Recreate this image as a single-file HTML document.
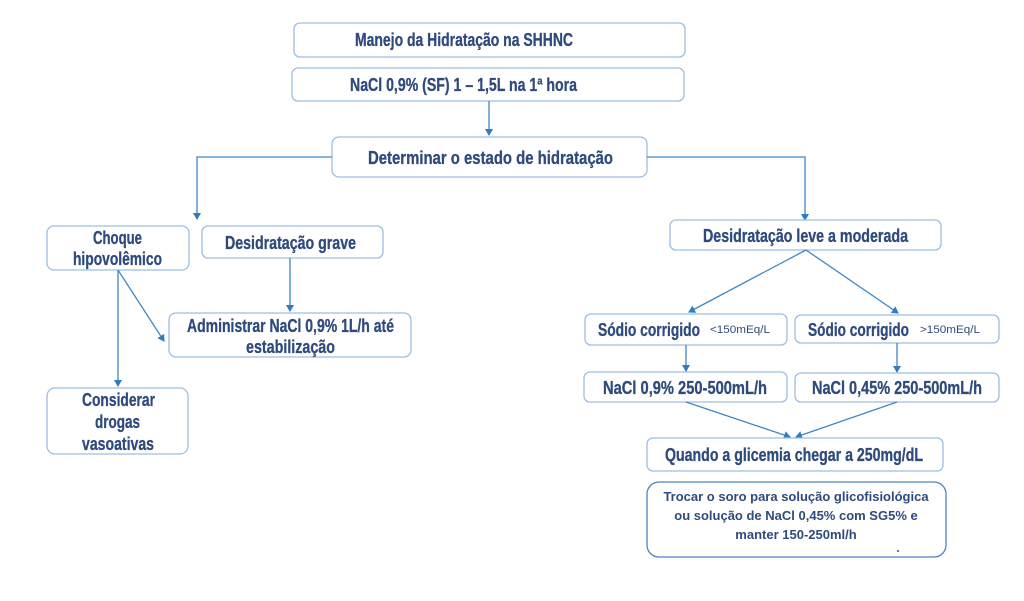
<!DOCTYPE html>
<html><head><meta charset="utf-8">
<style>
html,body{margin:0;padding:0;background:#fff;}
svg{display:block;}
.b{fill:#fff;stroke:#9dbde0;stroke-width:1.3;}
.t{font-family:"Liberation Sans",sans-serif;font-weight:bold;fill:#2f4a7d;stroke:#2f4a7d;stroke-width:0.3;font-size:18px;}
.s{font-family:"Liberation Sans",sans-serif;fill:#2f4a7d;font-size:11px;}
.r{font-family:"Liberation Sans",sans-serif;font-weight:bold;fill:#2f4a7d;font-size:13px;text-anchor:middle;}
.l{stroke:#3f86c6;stroke-width:1.3;fill:none;}
</style></head>
<body>
<svg width="1024" height="601" viewBox="0 0 1024 601" xmlns="http://www.w3.org/2000/svg">
<defs><marker id="a" markerWidth="8" markerHeight="8" refX="6" refY="4" orient="auto" markerUnits="userSpaceOnUse"><path d="M0,0 L7,4 L0,8 z" fill="#2f7cc0"/></marker></defs>

<rect class="b" x="294" y="23" width="391" height="34" rx="6"/>
<text class="t" x="355" y="46" textLength="218" lengthAdjust="spacingAndGlyphs">Manejo da Hidratação na SHHNC</text>
<rect class="b" x="292" y="68" width="392" height="33" rx="6"/>
<text class="t" x="350" y="91" textLength="227" lengthAdjust="spacingAndGlyphs">NaCl 0,9% (SF) 1 – 1,5L na 1ª hora</text>
<line class="l" x1="489" y1="101" x2="489" y2="135" marker-end="url(#a)"/>
<rect class="b" x="332" y="137" width="315" height="40" rx="7"/>
<text class="t" x="368" y="164" textLength="245" lengthAdjust="spacingAndGlyphs">Determinar o estado de hidratação</text>

<polyline class="l" points="332,157 197,157 197,219" marker-end="url(#a)"/>
<polyline class="l" points="647,157 805,157 805,220" marker-end="url(#a)"/>

<rect class="b" x="47" y="226" width="142" height="44" rx="7"/>
<text class="t" x="93" y="244" textLength="49" lengthAdjust="spacingAndGlyphs">Choque</text>
<text class="t" x="73" y="265" textLength="89" lengthAdjust="spacingAndGlyphs">hipovolêmico</text>
<rect class="b" x="202" y="226" width="181" height="32" rx="6"/>
<text class="t" x="225" y="249" textLength="131" lengthAdjust="spacingAndGlyphs">Desidratação grave</text>
<line class="l" x1="290" y1="258" x2="290" y2="311" marker-end="url(#a)"/>
<line class="l" x1="118" y1="270" x2="164" y2="341" marker-end="url(#a)"/>
<line class="l" x1="118" y1="270" x2="118" y2="386" marker-end="url(#a)"/>
<rect class="b" x="169" y="313" width="242" height="44" rx="7"/>
<text class="t" x="187" y="332" textLength="207" lengthAdjust="spacingAndGlyphs">Administrar NaCl 0,9% 1L/h até</text>
<text class="t" x="246" y="353" textLength="89" lengthAdjust="spacingAndGlyphs">estabilização</text>
<rect class="b" x="47" y="388" width="141" height="66" rx="8"/>
<text class="t" x="82" y="406" textLength="73" lengthAdjust="spacingAndGlyphs">Considerar</text>
<text class="t" x="95" y="428" textLength="45" lengthAdjust="spacingAndGlyphs">drogas</text>
<text class="t" x="82" y="450" textLength="72" lengthAdjust="spacingAndGlyphs">vasoativas</text>

<rect class="b" x="670" y="220" width="271" height="30" rx="6"/>
<text class="t" x="703" y="242" textLength="205" lengthAdjust="spacingAndGlyphs">Desidratação leve a moderada</text>
<line class="l" x1="806" y1="250" x2="689" y2="312" marker-end="url(#a)"/>
<line class="l" x1="806" y1="250" x2="898" y2="313" marker-end="url(#a)"/>

<rect class="b" x="585" y="314" width="202" height="31" rx="6"/>
<text class="t" x="598" y="336" textLength="102" lengthAdjust="spacingAndGlyphs">Sódio corrigido</text>
<text class="s" x="710" y="333" textLength="60" lengthAdjust="spacingAndGlyphs">&lt;150mEq/L</text>
<rect class="b" x="795" y="315" width="204" height="28" rx="6"/>
<text class="t" x="808" y="336" textLength="101" lengthAdjust="spacingAndGlyphs">Sódio corrigido</text>
<text class="s" x="920" y="333" textLength="60" lengthAdjust="spacingAndGlyphs">&gt;150mEq/L</text>

<line class="l" x1="686" y1="345" x2="686" y2="371" marker-end="url(#a)"/>
<line class="l" x1="897" y1="343" x2="897" y2="372" marker-end="url(#a)"/>

<rect class="b" x="584" y="372" width="203" height="30" rx="6"/>
<text class="t" x="603" y="394" textLength="164" lengthAdjust="spacingAndGlyphs">NaCl 0,9% 250-500mL/h</text>
<rect class="b" x="795" y="373" width="204" height="29" rx="6"/>
<text class="t" x="812" y="394" textLength="170" lengthAdjust="spacingAndGlyphs">NaCl 0,45% 250-500mL/h</text>

<line class="l" x1="686" y1="402" x2="790" y2="437" marker-end="url(#a)"/>
<line class="l" x1="897" y1="402" x2="796" y2="437" marker-end="url(#a)"/>

<rect class="b" x="647" y="438" width="296" height="33" rx="6"/>
<text class="t" x="665" y="461" textLength="258" lengthAdjust="spacingAndGlyphs">Quando a glicemia chegar a 250mg/dL</text>

<rect x="647" y="482" width="299" height="75" rx="12" fill="#fff" stroke="#4a84c0" stroke-width="1.3"/>
<text class="r" x="796" y="501">Trocar o soro para solução glicofisiológica</text>
<text class="r" x="796" y="520">ou solução de NaCl 0,45% com SG5% e</text>
<text class="r" x="796" y="539">manter 150-250ml/h</text>
<circle cx="898" cy="551" r="1" fill="#2f4a7d"/>
</svg>
</body></html>
